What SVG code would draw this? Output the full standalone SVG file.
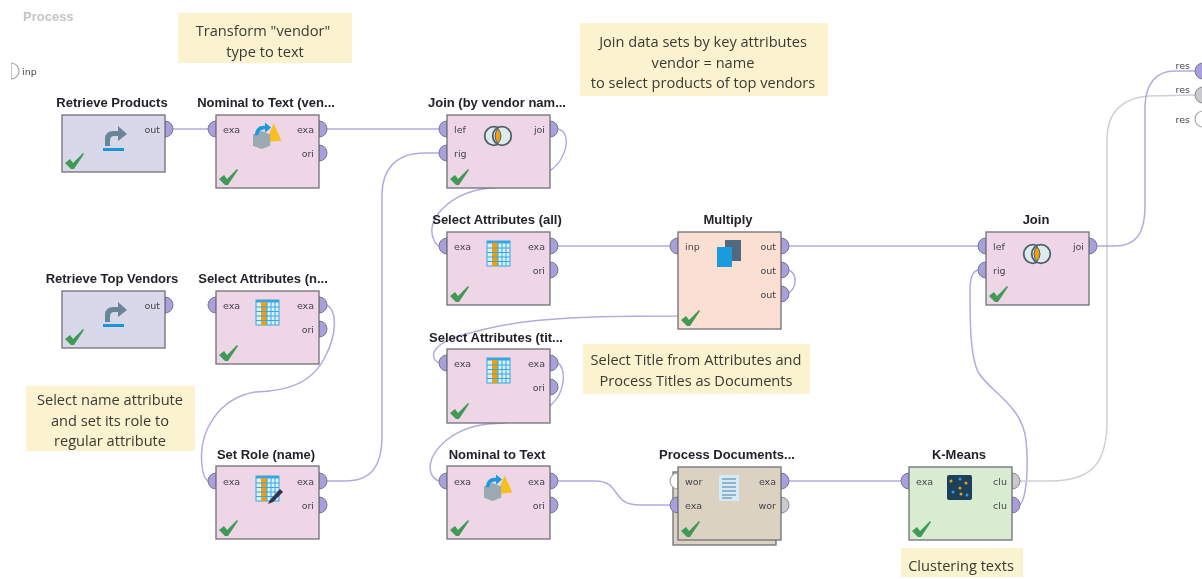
<svg xmlns="http://www.w3.org/2000/svg" width="1202" height="579" viewBox="0 0 1202 579">
<style>
.box{stroke:#6f6f78;stroke-width:1.3}
.op{fill:#eed6e6}.ret{fill:#d9d8ea}.mul{fill:#fbdfd3}.doc{fill:#dcd2c2}.clu{fill:#d9ecd2}
.t{font-family:"Liberation Sans",Arial,sans-serif;font-weight:bold;font-size:13px;fill:#23232b;text-anchor:middle}
.p{font-family:"DejaVu Sans",sans-serif;font-size:9.5px;fill:#44444c}
.r{text-anchor:end}
.n{font-family:"Open Sans","Noto Sans",sans-serif;font-size:14.6px;fill:#3a3a36;text-anchor:middle}
.nb{fill:#fbf2cf}
.c{fill:none;stroke:#b3abdf;stroke-width:1.5}
.cg{fill:none;stroke:#cfcfd6;stroke-width:1.5}
.pp{fill:#a99fdc;stroke:#77778a;stroke-width:1}
.pg{fill:#c9c9cf;stroke:#88888f;stroke-width:1}
.pw{fill:#fff;stroke:#a6a6aa;stroke-width:1.2}
</style>
<defs>
<filter id="soft" x="0" y="0" width="100%" height="100%"><feGaussianBlur stdDeviation="0.35"/></filter>
<g id="chk"><path d="M0 7 L5 3 L8 7 L18 -3 L19 -2 L9 13 L6 13Z" fill="#3f9a57"/></g>
<path id="pr" d="M0 -8 A8 8 0 0 1 0 8Z"/>
<path id="pl" d="M0 -8 A8 8 0 0 0 0 8Z"/>
<g id="ret"><path d="M2 17 V10 Q2 2 11 2 H15 V-3 L24 5 L15 12 V7 H11 Q7 7 7 12 V17Z" fill="#6b8598"/><rect x="0" y="19" width="21" height="3" fill="#1f95d8"/></g>
<g id="tbl"><rect width="23" height="25" fill="#d9f0fb" stroke="#35a8e0"/><rect x="0" y="0" width="23" height="2.5" fill="#35a8e0"/><rect x="5" y="2" width="6" height="23" fill="#f0a010"/><path d="M0 7H23M0 11.5H23M0 16H23M0 20.5H23M11 2V25M15 2V25M19 2V25" stroke="#35a8e0" stroke-width="1"/></g>
<g id="venn"><circle cx="10" cy="10" r="9.3" fill="#dcebed" stroke="#4f6068" stroke-width="1.8"/><circle cx="18" cy="10" r="9.3" fill="#dcebed" stroke="#4f6068" stroke-width="1.8"/><path d="M14 2.5 Q20 10 14 17.5 Q8 10 14 2.5Z" fill="#f0a010" stroke="#4f6068"/></g>
<g id="n2t"><g transform="scale(.86)"><path d="M15 20 L24 -2 L33 18Z" fill="#f5c020"/><path d="M0 11 L10 7 L20 11 V24 L10 28 L0 24Z" fill="#9aa9b2"/><path d="M2 12 Q3 0 14 1 V-3 L21 3 L14 9 V5 Q7 5 6 12Z" fill="#1f9bdc"/></g></g>
</defs>
<rect width="1202" height="579" fill="#fff"/>
<g filter="url(#soft)">
<text x="23" y="21" font-family="Liberation Sans,sans-serif" font-weight="bold" font-size="13px" fill="#c4c4c8">Process</text>
<g id="port-inp"><use href="#pr" x="11" y="71" class="pw"/><text x="22" y="75" class="p">inp</text></g>

<g id="connectors">
<path class="c" d="M173 129H208"/>
<path class="c" d="M327 129H439"/>
<path class="c" d="M558 129C572 132 568 160 548 172C530 184 512 187 490 188C450 192 424 220 434 240Q436 245 439 246"/>
<path class="c" d="M558 246H670"/>
<path class="c" d="M789 246H978"/>
<path class="c" d="M789 270C797 274 798 288 787 294C775 306 720 315 678 316C620 316 540 316 490 328C460 335 440 340 434 352Q432 360 439 363"/>
<path class="c" d="M327 305C338 312 336 335 326 355C312 385 285 391 255 392C220 398 198 430 202 465Q203 478 208 481"/>
<path class="c" d="M558 363C566 368 566 392 551 405C535 420 510 423 488 424C450 428 425 455 431 473Q433 479 439 481"/>
<path class="c" d="M327 481H345C372 481 382 465 382 437V195C382 170 395 153 425 153H439"/>
<path class="c" d="M558 481H595C622 481 610 505 640 505H670"/>
<path class="c" d="M789 481H901"/>
<path class="c" d="M1020 505C1028 495 1028 460 1026 440C1022 405 990 392 978 372C970 355 970 320 970 290Q970 272 978 270"/>
<path class="cg" d="M1020 481H1050C1095 481 1107 460 1107 420V140C1107 110 1125 97 1150 96L1195 95"/>
<path class="c" d="M1097 246H1115C1135 246 1145 235 1145 205V105C1146 85 1155 71 1175 71H1195"/>
</g>

<g id="note-1"><rect class="nb" x="178" y="13" width="174" height="50"/><text class="n" x="263" y="36">Transform "vendor"</text><text class="n" x="265" y="57">type to text</text></g>
<g id="note-2"><rect class="nb" x="580" y="23" width="248" height="73"/><text class="n" x="703" y="47">Join data sets by key attributes</text><text class="n" x="703" y="68">vendor = name</text><text class="n" x="703" y="88">to select products of top vendors</text></g>
<g id="note-3"><rect class="nb" x="26" y="386" width="169" height="65"/><text class="n" x="110" y="405">Select name attribute</text><text class="n" x="110" y="426">and set its role to</text><text class="n" x="110" y="446">regular attribute</text></g>
<g id="note-4"><rect class="nb" x="583" y="344" width="227" height="50"/><text class="n" x="696" y="365">Select Title from Attributes and</text><text class="n" x="696" y="386">Process Titles as Documents</text></g>
<g id="note-5"><rect class="nb" x="901" y="548" width="122" height="29"/><text class="n" x="961" y="571">Clustering texts</text></g>

<g id="retrieve-products"><use href="#pr" x="165" y="129" class="pp"/><rect class="box ret" x="62" y="115" width="103" height="57"/><text class="t" x="112" y="107">Retrieve Products</text><text class="p r" x="160" y="133">out</text><use href="#ret" x="103" y="129"/><use href="#chk" x="65" y="156"/></g>

<g id="nominal-to-text-vendor"><use href="#pl" x="216" y="129" class="pp"/><use href="#pr" x="319" y="129" class="pp"/><use href="#pr" x="319" y="153" class="pp"/><rect class="box op" x="216" y="115" width="103" height="73"/><text class="t" x="266" y="107">Nominal to Text (ven...</text><text class="p" x="223" y="133">exa</text><text class="p r" x="314" y="133">exa</text><text class="p r" x="314" y="157">ori</text><use href="#n2t" x="253" y="125"/><use href="#chk" x="219" y="172"/></g>

<g id="join-by-vendor"><use href="#pl" x="447" y="129" class="pp"/><use href="#pl" x="447" y="153" class="pp"/><use href="#pr" x="550" y="129" class="pp"/><rect class="box op" x="447" y="115" width="103" height="73"/><text class="t" x="497" y="107">Join (by vendor nam...</text><text class="p" x="454" y="133">lef</text><text class="p" x="454" y="157">rig</text><text class="p r" x="545" y="133">joi</text><use href="#venn" x="484" y="126"/><use href="#chk" x="450" y="172"/></g>

<g id="select-attributes-all"><use href="#pl" x="447" y="246" class="pp"/><use href="#pr" x="550" y="246" class="pp"/><use href="#pr" x="550" y="270" class="pp"/><rect class="box op" x="447" y="232" width="103" height="73"/><text class="t" x="497" y="224">Select Attributes (all)</text><text class="p" x="454" y="250">exa</text><text class="p r" x="545" y="250">exa</text><text class="p r" x="545" y="274">ori</text><use href="#tbl" x="487" y="241"/><use href="#chk" x="450" y="289"/></g>

<g id="multiply"><use href="#pl" x="678" y="246" class="pp"/><use href="#pr" x="781" y="246" class="pp"/><use href="#pr" x="781" y="270" class="pp"/><use href="#pr" x="781" y="294" class="pp"/><rect class="box mul" x="678" y="232" width="103" height="97"/><text class="t" x="728" y="224">Multiply</text><text class="p" x="685" y="250">inp</text><text class="p r" x="776" y="250">out</text><text class="p r" x="776" y="274">out</text><text class="p r" x="776" y="298">out</text><rect x="725" y="240" width="16" height="21" fill="#4f6a80"/><rect x="717" y="247" width="15" height="20" fill="#1f9bdc"/><use href="#chk" x="681" y="313"/></g>

<g id="join"><use href="#pl" x="986" y="246" class="pp"/><use href="#pl" x="986" y="270" class="pp"/><use href="#pr" x="1089" y="246" class="pp"/><rect class="box op" x="986" y="232" width="103" height="73"/><text class="t" x="1036" y="224">Join</text><text class="p" x="993" y="250">lef</text><text class="p" x="993" y="274">rig</text><text class="p r" x="1084" y="250">joi</text><use href="#venn" x="1023" y="244"/><use href="#chk" x="989" y="289"/></g>

<g id="retrieve-top-vendors"><use href="#pr" x="165" y="305" class="pp"/><rect class="box ret" x="62" y="291" width="103" height="57"/><text class="t" x="112" y="283">Retrieve Top Vendors</text><text class="p r" x="160" y="309">out</text><use href="#ret" x="103" y="305"/><use href="#chk" x="65" y="332"/></g>

<g id="select-attributes-name"><use href="#pl" x="216" y="305" class="pp"/><use href="#pr" x="319" y="305" class="pp"/><use href="#pr" x="319" y="329" class="pp"/><rect class="box op" x="216" y="291" width="103" height="73"/><text class="t" x="263" y="283">Select Attributes (n...</text><text class="p" x="223" y="309">exa</text><text class="p r" x="314" y="309">exa</text><text class="p r" x="314" y="333">ori</text><use href="#tbl" x="256" y="300"/><use href="#chk" x="219" y="348"/></g>

<g id="select-attributes-title"><use href="#pl" x="447" y="363" class="pp"/><use href="#pr" x="550" y="363" class="pp"/><use href="#pr" x="550" y="387" class="pp"/><rect class="box op" x="447" y="349" width="103" height="74"/><text class="t" x="496" y="342">Select Attributes (tit...</text><text class="p" x="454" y="367">exa</text><text class="p r" x="545" y="367">exa</text><text class="p r" x="545" y="391">ori</text><use href="#tbl" x="487" y="358"/><use href="#chk" x="450" y="406"/></g>

<g id="set-role"><use href="#pl" x="216" y="481" class="pp"/><use href="#pr" x="319" y="481" class="pp"/><use href="#pr" x="319" y="505" class="pp"/><rect class="box op" x="216" y="466" width="103" height="73"/><text class="t" x="266" y="459">Set Role (name)</text><text class="p" x="223" y="485">exa</text><text class="p r" x="314" y="485">exa</text><text class="p r" x="314" y="509">ori</text><use href="#tbl" x="256" y="476"/><path d="M270 500L280 489L283 492L273 502L268 504Z" fill="#30304a"/><use href="#chk" x="219" y="523"/></g>

<g id="nominal-to-text"><use href="#pl" x="447" y="481" class="pp"/><use href="#pr" x="550" y="481" class="pp"/><use href="#pr" x="550" y="505" class="pp"/><rect class="box op" x="447" y="466" width="103" height="73"/><text class="t" x="497" y="459">Nominal to Text</text><text class="p" x="454" y="485">exa</text><text class="p r" x="545" y="485">exa</text><text class="p r" x="545" y="509">ori</text><use href="#n2t" x="484" y="477"/><use href="#chk" x="450" y="523"/></g>

<g id="process-documents"><rect class="box doc" x="673" y="472" width="103" height="73"/><use href="#pl" x="678" y="481" class="pw"/><use href="#pl" x="678" y="505" class="pp"/><use href="#pr" x="781" y="481" class="pp"/><use href="#pr" x="781" y="505" class="pg"/><rect class="box doc" x="678" y="467" width="103" height="73"/><text class="t" x="727" y="459">Process Documents...</text><text class="p" x="685" y="485">wor</text><text class="p" x="685" y="509">exa</text><text class="p r" x="776" y="485">exa</text><text class="p r" x="776" y="509">wor</text><rect x="719" y="475" width="20" height="26" fill="#d5ecf8"/><path d="M722 479H736M722 483H736M722 487H736M722 491H736M722 495H736M722 498H732" stroke="#4a7f9f"/><use href="#chk" x="681" y="524"/></g>

<g id="k-means"><use href="#pl" x="909" y="481" class="pp"/><use href="#pr" x="1012" y="481" class="pg"/><use href="#pr" x="1012" y="505" class="pp"/><rect class="box clu" x="909" y="467" width="103" height="73"/><text class="t" x="959" y="459">K-Means</text><text class="p" x="916" y="485">exa</text><text class="p r" x="1007" y="485">clu</text><text class="p r" x="1007" y="509">clu</text><rect x="947" y="475" width="25" height="25" rx="2" fill="#1d3f58"/><circle cx="951" cy="481" r="1.5" fill="#e89a30"/><circle cx="960" cy="479" r="1.5" fill="#2a9be0"/><circle cx="966" cy="483" r="1.5" fill="#e89a30"/><circle cx="960" cy="488" r="1.5" fill="#e89a30"/><circle cx="953" cy="492" r="1.5" fill="#2a9be0"/><circle cx="967" cy="495" r="1.5" fill="#2a9be0"/><circle cx="961" cy="494" r="1.5" fill="#e89a30"/><use href="#chk" x="912" y="524"/></g>

<g id="results"><text class="p r" x="1190" y="69">res</text><circle cx="1203" cy="71" r="8" class="pp"/><text class="p r" x="1190" y="93">res</text><circle cx="1203" cy="95" r="8" class="pg"/><text class="p r" x="1190" y="123">res</text><circle cx="1203" cy="119" r="8" class="pw"/></g>
</g>
</svg>
